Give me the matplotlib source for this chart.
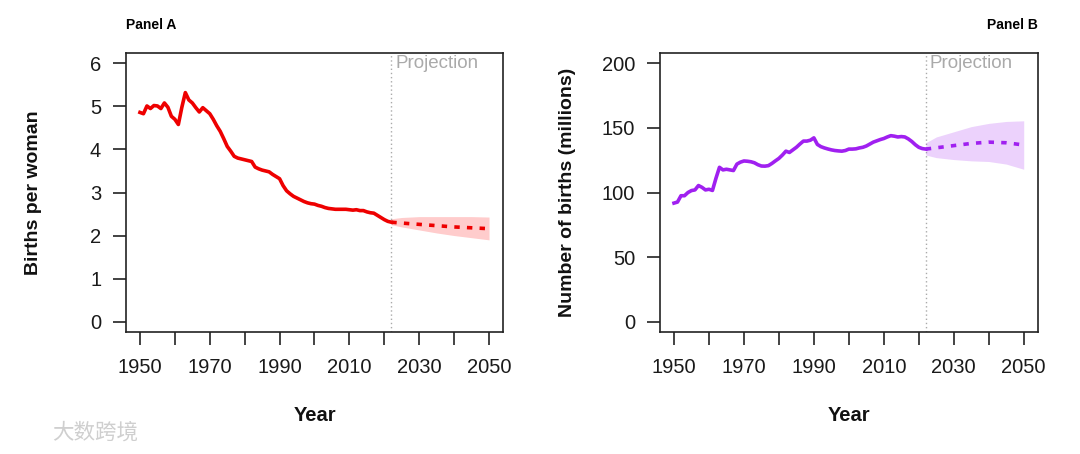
import matplotlib
matplotlib.use("Agg")
import matplotlib.pyplot as plt
import numpy as np

plt.rcParams['font.family'] = ['Liberation Sans', 'DejaVu Sans']

# ---------------- data ----------------
hist_years = list(range(1950, 2023))
tfr_hist = [4.86, 4.83, 5.01, 4.95, 5.02, 5.01, 4.95, 5.08, 4.98, 4.77,
            4.70, 4.58, 4.98, 5.32, 5.15, 5.08, 4.97, 4.87, 4.97, 4.90,
            4.83, 4.70, 4.55, 4.42, 4.25, 4.07, 3.96, 3.84, 3.80, 3.78,
            3.76, 3.74, 3.72, 3.59, 3.55, 3.52, 3.50, 3.48, 3.42, 3.37,
            3.32, 3.16, 3.04, 2.97, 2.91, 2.87, 2.83, 2.79, 2.76, 2.74,
            2.73, 2.70, 2.68, 2.65, 2.63, 2.62, 2.61, 2.61, 2.61, 2.61,
            2.60, 2.59, 2.60, 2.58, 2.58, 2.55, 2.53, 2.52, 2.47, 2.42,
            2.37, 2.33, 2.31]
births_hist = [91.8, 92.6, 97.5, 97.5, 100.0, 101.5, 102.0, 105.4, 104.0, 102.0,
               102.5, 101.6, 111.0, 119.5, 117.5, 118.0, 117.5, 117.0, 122.0, 123.5,
               124.4, 124.2, 123.8, 123.0, 121.5, 120.5, 120.4, 120.8, 122.5, 124.5,
               126.4, 129.0, 132.0, 131.0, 133.0, 135.0, 137.5, 139.8, 139.8, 140.5,
               142.3, 137.2, 135.5, 134.5, 133.7, 133.0, 132.5, 132.2, 132.0, 132.5,
               133.6, 133.6, 133.8, 134.5, 135.0, 136.0, 137.5, 139.0, 140.0, 141.0,
               141.8, 143.0, 144.0, 143.6, 143.0, 143.3, 143.0, 141.5, 139.5, 137.0,
               135.0, 134.0, 133.6]

proj_years = [2022, 2025, 2030, 2035, 2040, 2045, 2050]
tfr_mean = [2.31, 2.29, 2.26, 2.23, 2.20, 2.18, 2.16]
tfr_upper = [2.39, 2.42, 2.44, 2.44, 2.44, 2.44, 2.43]
tfr_lower = [2.25, 2.20, 2.13, 2.06, 2.00, 1.95, 1.90]
births_mean = [133.6, 134.6, 136.3, 138.0, 139.0, 138.5, 136.8]
births_upper = [138.5, 143.0, 147.0, 151.0, 153.5, 155.0, 155.5]
births_lower = [129.0, 127.0, 125.5, 124.5, 124.0, 122.0, 118.0]

proj_start = 2022
x_ticks = list(range(1950, 2051, 10))
x_labels = [str(y) if (y - 1950) % 20 == 0 else "" for y in x_ticks]
yticks_a = [0, 1, 2, 3, 4, 5, 6]
yticks_b = [0, 50, 100, 150, 200]

# ---------------- figure ----------------
fig = plt.figure(figsize=(10.8, 4.54), dpi=100)
axA = fig.add_axes([126/1080, 1 - 332/454, 377/1080, 279/454])
axB = fig.add_axes([660/1080, 1 - 332/454, 377.7/1080, 279/454])

def style(ax, yticks, ylim, ylabel):
    ax.set_xlim(1946, 2054)
    ax.set_ylim(*ylim)
    ax.set_xticks(x_ticks)
    ax.set_xticklabels(x_labels)
    ax.set_yticks(yticks)
    ax.set_yticklabels([str(v) for v in yticks])
    for s in ax.spines.values():
        s.set_linewidth(1.2)
        s.set_color('#222222')
    ax.tick_params(axis='both', direction='out', length=9.4, width=1.2,
                   labelsize=14.5, color='#222222', labelcolor='#1a1a1a')
    ax.tick_params(axis='x', pad=9)
    ax.tick_params(axis='y', pad=8.5)
    ax.set_ylabel(ylabel, fontsize=14, fontweight='bold', color='#111111', va='center')
    ax.yaxis.set_label_coords(-0.245, 0.5)
    ax.set_xlabel("Year", fontsize=14.5, fontweight='bold', color='#111111', va='center')
    ax.xaxis.set_label_coords(0.5, -0.30)
    ax.axvline(proj_start, color='#aaaaaa', lw=1.0, ls=(0, (1, 2)), zorder=1)

# Panel A
style(axA, yticks_a, (-0.24, 6.24), "Births per woman")
axA.fill_between(proj_years, tfr_lower, tfr_upper, color='#ff0000', alpha=0.2, lw=0, zorder=2)
axA.plot(hist_years, tfr_hist, color='#ee0000', lw=2.6, solid_joinstyle='round', zorder=3)
axA.plot(proj_years, tfr_mean, color='#ee0000', lw=2.6, ls=(0, (1.5, 2.0)), zorder=3)
axA.annotate("Projection", xy=(proj_start, 6), xytext=(3, 0), textcoords='offset points',
             ha='left', va='center', fontsize=13.5, color='#aaaaaa')

# Panel B
style(axB, yticks_b, (-8, 208), "Number of births (millions)")
axB.fill_between(proj_years, births_lower, births_upper, color='#a020f0', alpha=0.2, lw=0, zorder=2)
axB.plot(hist_years, births_hist, color='#a020f0', lw=2.6, solid_joinstyle='round', zorder=3)
axB.plot(proj_years, births_mean, color='#a020f0', lw=2.6, ls=(0, (1.5, 2.0)), zorder=3)
axB.annotate("Projection", xy=(proj_start, 200), xytext=(3, 0), textcoords='offset points',
             ha='left', va='center', fontsize=13.5, color='#aaaaaa')

# panel titles
fig.text(126/1080, 1 - 25/454, "Panel A", fontsize=10, fontweight='bold', ha='left', va='center')
fig.text(1038/1080, 1 - 25/454, "Panel B", fontsize=10, fontweight='bold', ha='right', va='center')

# watermark
fig.text(52/1080, 1 - 433/454, "大数跨境", fontsize=15.5, color='#cfcfcf',
         ha='left', va='center', family=['Noto Sans CJK SC', 'DejaVu Sans'])

fig.savefig("out.png", dpi=100)
